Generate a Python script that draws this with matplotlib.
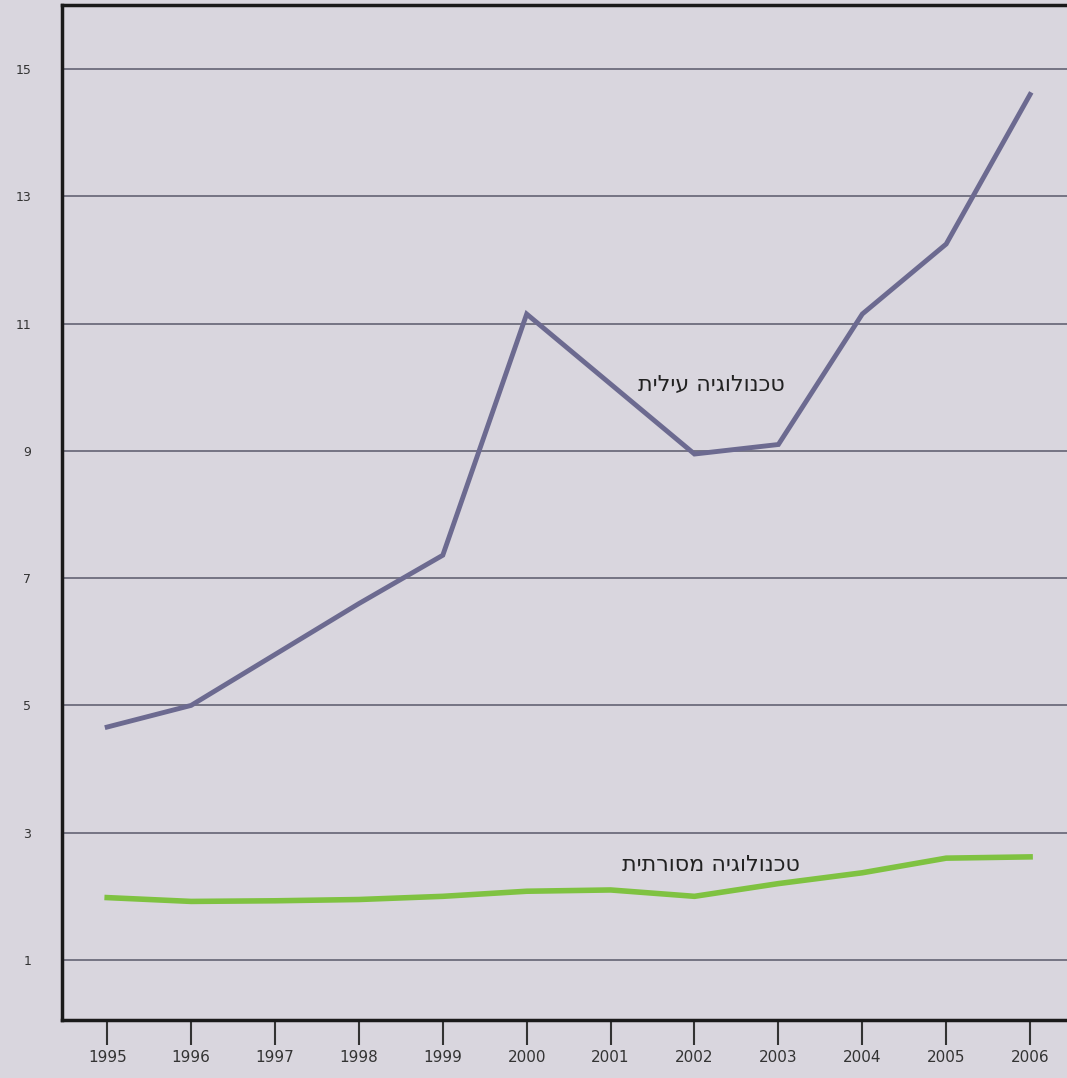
import matplotlib
matplotlib.use("Agg")
import matplotlib.pyplot as plt

years = [1995, 1996, 1997, 1998, 1999, 2000, 2001, 2002, 2003, 2004, 2005, 2006]
high_tech = [4.66, 5.0, 5.8, 6.6, 7.36, 11.15, 10.05, 8.95, 9.1, 11.15, 12.25, 14.6]
traditional = [1.98, 1.92, 1.93, 1.95, 2.0, 2.08, 2.1, 2.0, 2.2, 2.37, 2.6, 2.62]
y_ticks = [1, 3, 5, 7, 9, 11, 13, 15]
label_high = "טכנולוגיה עילית"
label_trad = "טכנולוגיה מסורתית"

bg = "#d9d6de"
fig = plt.figure(figsize=(10.67, 10.78), dpi=100, facecolor=bg)
ax = fig.add_axes([0.058, 0.054, 0.942, 0.941])
ax.set_facecolor(bg)

ax.plot(years, high_tech, color="#6c6a90", lw=3.5, solid_joinstyle="miter")
ax.plot(years, traditional, color="#7fc241", lw=4)

# matplotlib has no bidi, so Hebrew is reversed for display
ax.text(2002.2, 10.03, label_high[::-1], fontsize=16, ha="center", va="center",
        family="DejaVu Sans", color="#222222")
ax.text(2002.2, 2.5, label_trad[::-1], fontsize=16, ha="center", va="center",
        family="DejaVu Sans", color="#222222")

ax.set_xlim(1994.46, 2006.44)
ax.set_ylim(0.06, 16.0)
ax.set_xticks(years)
ax.set_yticks(y_ticks)
ax.tick_params(axis="x", direction="out", length=18, width=1.5, labelsize=11,
               colors="#333333", pad=4)
ax.tick_params(axis="y", length=0, labelsize=9, colors="#333333", pad=22)
ax.yaxis.grid(True, color="#5a5a6a", lw=1.1)
ax.set_axisbelow(True)

for side in ["left", "bottom", "top"]:
    ax.spines[side].set_color("#1a1a1a")
    ax.spines[side].set_linewidth(2.5)
ax.spines["right"].set_visible(False)

fig.savefig("out.png", dpi=100, facecolor=bg)
